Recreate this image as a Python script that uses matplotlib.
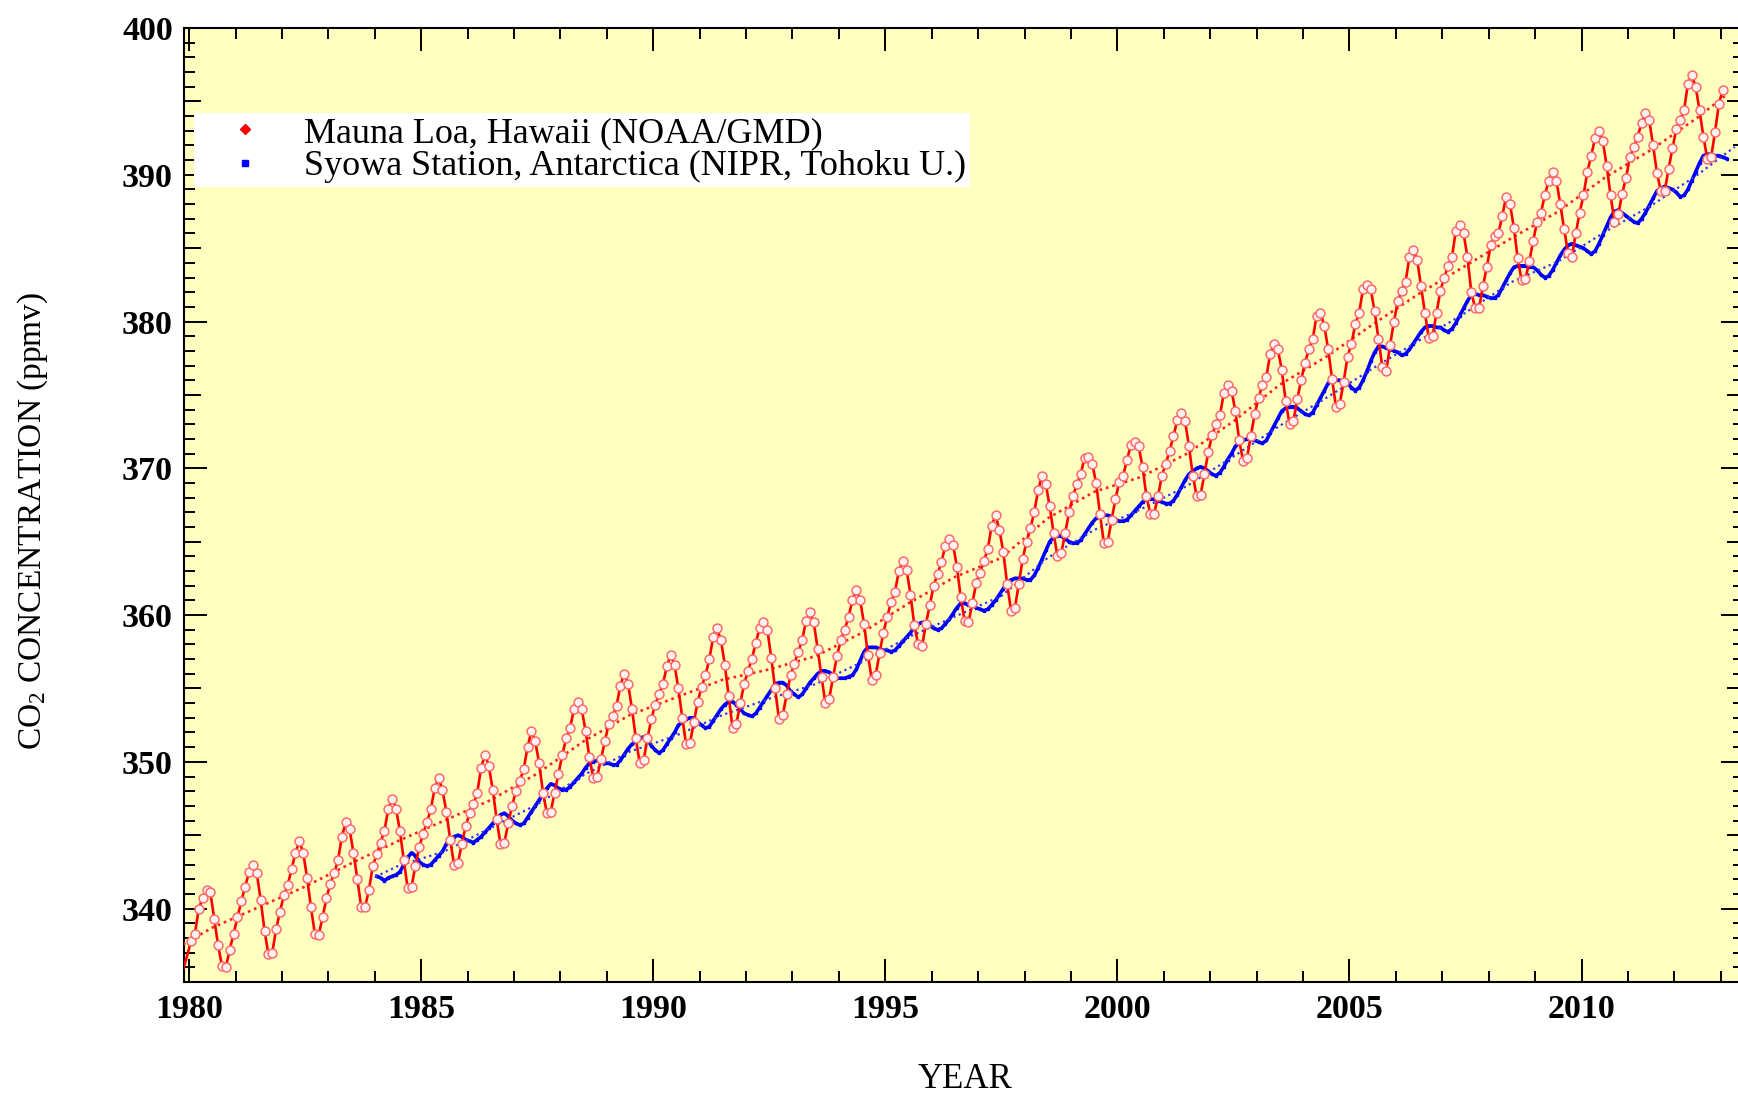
import matplotlib
matplotlib.use("Agg")
import matplotlib.pyplot as plt
from matplotlib.ticker import MultipleLocator, FixedLocator, NullLocator
from matplotlib.lines import Line2D

plt.rcParams['font.family'] = ['Liberation Serif', 'DejaVu Serif']
plt.rcParams['mathtext.fontset'] = 'custom'
plt.rcParams['mathtext.rm'] = 'Liberation Serif'
plt.rcParams['mathtext.it'] = 'Liberation Serif:italic'
plt.rcParams['mathtext.bf'] = 'Liberation Serif:bold'

# ---------------------------------------------------------------------------
# Mauna Loa, Hawaii - monthly mean CO2 (ppmv), first value = November 1979
mlo_start = (1979, 11)
mlo_ppm = [
    335.9, 336.8,
    337.8, 338.3, 340.0, 340.7, 341.3, 341.1, 339.3, 337.5, 336.1, 336.0, 337.2, 338.3,  # 1980
    339.4, 340.5, 341.5, 342.5, 343.0, 342.4, 340.6, 338.5, 336.9, 337.0, 338.6, 339.8,  # 1981
    340.9, 341.6, 342.7, 343.8, 344.6, 343.8, 342.1, 340.1, 338.3, 338.2, 339.4, 340.7,  # 1982
    341.7, 342.4, 343.3, 344.9, 345.9, 345.4, 343.8, 342.0, 340.1, 340.1, 341.3, 342.9,  # 1983
    343.7, 344.5, 345.3, 346.8, 347.5, 346.8, 345.3, 343.3, 341.4, 341.5, 342.9, 344.2,  # 1984
    345.1, 345.9, 346.8, 348.2, 348.9, 348.1, 346.6, 344.7, 343.0, 343.1, 344.4, 345.6,  # 1985
    346.5, 347.1, 347.9, 349.6, 350.5, 349.7, 348.1, 346.1, 344.4, 344.5, 345.8, 347.0,  # 1986
    348.0, 348.7, 349.5, 351.0, 352.1, 351.4, 349.9, 347.9, 346.5, 346.6, 347.9, 349.2,  # 1987
    350.5, 351.6, 352.3, 353.6, 354.1, 353.6, 352.1, 350.3, 348.9, 349.0, 350.2, 351.4,  # 1988
    352.6, 353.1, 353.8, 355.2, 356.0, 355.3, 353.6, 351.6, 349.9, 350.1, 351.6, 352.9,  # 1989
    353.9, 354.6, 355.3, 356.5, 357.3, 356.6, 355.0, 353.0, 351.2, 351.3, 352.7, 354.1,  # 1990
    355.1, 355.9, 357.0, 358.5, 359.1, 358.3, 356.6, 354.5, 352.3, 352.6, 354.0, 355.3,  # 1991
    356.2, 357.0, 358.1, 359.1, 359.5, 359.0, 357.1, 355.0, 352.9, 353.2, 354.6, 355.9,  # 1992
    356.7, 357.5, 358.3, 359.6, 360.2, 359.5, 357.7, 355.8, 354.0, 354.3, 355.8, 357.2,  # 1993
    358.3, 359.0, 359.9, 361.0, 361.7, 361.0, 359.4, 357.3, 355.6, 355.9, 357.4, 358.8,  # 1994
    359.9, 360.9, 361.6, 363.0, 363.7, 363.1, 361.4, 359.3, 358.0, 357.9, 359.4, 360.7,  # 1995
    362.0, 362.8, 363.6, 364.7, 365.2, 364.8, 363.3, 361.2, 359.6, 359.5, 360.8, 362.2,  # 1996
    362.9, 363.7, 364.5, 366.1, 366.8, 365.8, 364.3, 362.1, 360.3, 360.5, 362.1, 363.8,  # 1997
    365.0, 365.9, 367.0, 368.5, 369.5, 368.9, 367.4, 365.6, 364.0, 364.2, 365.6, 367.0,  # 1998
    368.1, 368.9, 369.6, 370.7, 370.8, 370.3, 369.0, 366.9, 364.9, 365.0, 366.5, 367.9,  # 1999
    369.1, 369.5, 370.6, 371.6, 371.8, 371.5, 370.1, 368.1, 366.9, 366.9, 368.1, 369.5,  # 2000
    370.3, 371.2, 372.2, 373.3, 373.8, 373.2, 371.5, 369.5, 368.1, 368.2, 369.6, 371.1,  # 2001
    372.3, 373.0, 373.6, 375.1, 375.7, 375.3, 373.9, 371.9, 370.5, 370.7, 372.2, 373.7,  # 2002
    374.8, 375.7, 376.2, 377.8, 378.5, 378.1, 376.7, 374.6, 373.0, 373.2, 374.7, 376.0,  # 2003
    377.2, 378.1, 378.8, 380.4, 380.6, 379.7, 378.1, 376.1, 374.2, 374.4, 375.9, 377.6,  # 2004
    378.5, 379.8, 380.6, 382.2, 382.5, 382.2, 380.7, 378.8, 376.9, 376.6, 378.4, 380.0,  # 2005
    381.4, 382.1, 382.7, 384.4, 384.9, 384.2, 382.4, 380.6, 378.9, 379.0, 380.6, 382.1,  # 2006
    383.0, 383.8, 384.4, 386.2, 386.6, 386.0, 384.4, 382.0, 380.9, 380.9, 382.4, 383.7,  # 2007
    385.2, 385.8, 386.0, 387.2, 388.5, 388.0, 386.4, 384.3, 382.8, 382.9, 384.1, 385.5,  # 2008
    386.8, 387.4, 388.6, 389.6, 390.2, 389.6, 388.0, 386.3, 384.7, 384.4, 386.0, 387.4,  # 2009
    388.6, 390.2, 391.3, 392.5, 393.0, 392.3, 390.6, 388.6, 386.8, 387.3, 388.7, 389.8,  # 2010
    391.2, 391.9, 392.6, 393.5, 394.2, 393.7, 392.0, 390.1, 388.9, 388.9, 390.4, 391.8,  # 2011
    393.1, 393.7, 394.4, 396.2, 396.8, 396.0, 394.4, 392.6, 391.1, 391.2, 392.9, 394.8,  # 2012
    395.8,                                                                              # 2013
]

# Mauna Loa deseasonalised trend (decimal year, ppmv)
mlo_trend_year = [1979.5, 1980.5, 1981.5, 1982.5, 1983.5, 1984.5, 1985.5, 1986.5,
                  1987.5, 1988.5, 1989.5, 1990.5, 1991.5, 1992.5, 1993.5, 1994.5,
                  1995.5, 1996.5, 1997.5, 1998.5, 1999.5, 2000.5, 2001.5, 2002.5,
                  2003.5, 2004.5, 2005.5, 2006.5, 2007.5, 2008.5, 2009.5, 2010.5,
                  2011.5, 2012.5, 2013.1]
mlo_trend_ppm = [336.9, 338.7, 340.1, 341.5, 343.1, 344.6, 346.0, 347.4,
                 349.2, 351.4, 353.2, 354.4, 355.6, 356.3, 357.2, 358.8,
                 360.8, 362.6, 363.9, 366.6, 368.4, 369.4, 371.0, 373.2,
                 375.7, 377.6, 379.8, 381.9, 383.8, 385.7, 387.5, 389.8,
                 391.7, 393.9, 395.4]

# Syowa Station, Antarctica - monthly CO2 (ppmv), first value = January 1984
syowa_start = (1984, 1)
syowa_ppm = [
    342.2, 342.1, 341.9, 342.1, 342.2, 342.3, 342.5, 343.0, 343.5, 343.8, 343.6, 343.2,  # 1984
    343.0, 342.9, 343.0, 343.3, 343.6, 343.9, 344.4, 344.7, 344.9, 345.0, 344.9, 344.7,  # 1985
    344.6, 344.5, 344.7, 344.9, 345.2, 345.5, 345.8, 346.1, 346.4, 346.5, 346.3, 346.0,  # 1986
    345.8, 345.7, 345.8, 346.2, 346.6, 347.0, 347.4, 347.8, 348.2, 348.5, 348.4, 348.2,  # 1987
    348.1, 348.1, 348.3, 348.6, 348.9, 349.2, 349.6, 349.9, 350.0, 350.1, 350.0, 349.9,  # 1988
    349.9, 349.8, 349.8, 350.1, 350.5, 350.9, 351.2, 351.4, 351.6, 351.7, 351.5, 351.1,  # 1989
    350.8, 350.6, 350.8, 351.2, 351.6, 352.0, 352.5, 352.7, 352.9, 353.0, 353.0, 352.7,  # 1990
    352.5, 352.3, 352.4, 352.8, 353.2, 353.6, 353.9, 354.1, 354.1, 353.9, 353.6, 353.3,  # 1991
    353.2, 353.1, 353.3, 353.7, 354.1, 354.5, 354.9, 355.3, 355.4, 355.4, 355.2, 354.8,  # 1992
    354.6, 354.4, 354.6, 355.0, 355.4, 355.7, 356.0, 356.2, 356.2, 356.1, 355.9, 355.7,  # 1993
    355.7, 355.7, 355.8, 355.9, 356.3, 356.9, 357.5, 357.8, 357.8, 357.8, 357.7, 357.6,  # 1994
    357.6, 357.5, 357.6, 357.9, 358.2, 358.5, 358.8, 359.2, 359.4, 359.5, 359.5, 359.3,  # 1995
    359.1, 359.0, 359.1, 359.4, 359.7, 360.1, 360.5, 360.8, 360.8, 360.7, 360.7, 360.5,  # 1996
    360.4, 360.3, 360.4, 360.7, 361.0, 361.4, 361.8, 362.2, 362.4, 362.5, 362.5, 362.5,  # 1997
    362.4, 362.4, 362.7, 363.2, 363.8, 364.4, 365.0, 365.3, 365.4, 365.4, 365.2, 365.0,  # 1998
    364.9, 364.9, 365.1, 365.5, 365.9, 366.3, 366.6, 366.7, 366.8, 366.8, 366.7, 366.5,  # 1999
    366.4, 366.4, 366.5, 366.8, 367.1, 367.4, 367.7, 367.9, 367.9, 367.9, 367.8, 367.7,  # 2000
    367.6, 367.6, 367.8, 368.2, 368.7, 369.2, 369.6, 369.8, 370.0, 370.1, 370.0, 369.8,  # 2001
    369.6, 369.5, 369.7, 370.1, 370.6, 371.0, 371.5, 371.7, 371.9, 372.0, 372.0, 371.9,  # 2002
    371.8, 371.7, 371.9, 372.4, 372.9, 373.4, 373.9, 374.1, 374.2, 374.2, 374.1, 373.9,  # 2003
    373.7, 373.6, 373.8, 374.3, 374.8, 375.3, 375.8, 376.0, 376.0, 376.0, 375.9, 375.8,  # 2004
    375.5, 375.3, 375.5, 376.0, 376.6, 377.3, 377.9, 378.3, 378.3, 378.2, 378.1, 378.0,  # 2005
    377.9, 377.7, 377.8, 378.1, 378.5, 378.9, 379.3, 379.6, 379.7, 379.7, 379.6, 379.6,  # 2006
    379.4, 379.3, 379.5, 379.9, 380.4, 380.9, 381.4, 381.8, 381.9, 381.8, 381.8, 381.7,  # 2007
    381.6, 381.6, 381.8, 382.3, 382.8, 383.3, 383.7, 383.8, 383.8, 383.8, 383.7, 383.7,  # 2008
    383.5, 383.2, 383.0, 383.1, 383.5, 384.0, 384.5, 384.9, 385.2, 385.3, 385.2, 385.1,  # 2009
    385.0, 384.8, 384.6, 384.8, 385.3, 385.9, 386.5, 387.1, 387.5, 387.6, 387.4, 387.2,  # 2010
    387.0, 386.8, 386.7, 387.0, 387.4, 387.9, 388.4, 388.9, 389.1, 389.2, 389.1, 389.0,  # 2011
    388.8, 388.5, 388.6, 389.0, 389.6, 390.2, 390.8, 391.3, 391.4, 391.4, 391.3, 391.3,  # 2012
    391.2, 391.1,                                                                        # 2013
]

# Syowa Station trend (decimal year, ppmv)
syowa_trend_year = [1983.9, 1984.5, 1985.5, 1986.5, 1987.5, 1988.5, 1989.5, 1990.5,
                    1991.5, 1992.5, 1993.5, 1994.5, 1995.5, 1996.5, 1997.5, 1998.5,
                    1999.5, 2000.5, 2001.5, 2002.5, 2003.5, 2004.5, 2005.5, 2006.5,
                    2007.5, 2008.5, 2009.5, 2010.5, 2011.5, 2012.5, 2013.3]
syowa_trend_ppm = [342.0, 342.9, 343.9, 345.5, 347.1, 349.1, 350.7, 351.8,
                   353.2, 354.3, 355.3, 356.8, 358.5, 359.9, 361.3, 363.9,
                   365.8, 367.2, 368.8, 370.8, 372.9, 374.8, 376.8, 378.7,
                   380.6, 382.7, 384.1, 386.1, 387.9, 390.0, 391.9]

year_ticks = [1980, 1985, 1990, 1995, 2000, 2005, 2010]
ppm_ticks = [340, 350, 360, 370, 380, 390, 400]
legend_labels = ["Mauna Loa, Hawaii (NOAA/GMD)",
                 "Syowa Station, Antarctica (NIPR, Tohoku U.)"]


def month_axis(start, n):
    y0, m0 = start
    return [y0 + (m0 - 0.5 + i) / 12.0 for i in range(n)]


mlo_t = month_axis(mlo_start, len(mlo_ppm))
syowa_t = month_axis(syowa_start, len(syowa_ppm))

# ---------------------------------------------------------------------------
W, H = 1738, 1097
fig = plt.figure(figsize=(W / 100, H / 100), dpi=100)
fig.patch.set_facecolor('white')

left_px, right_px, top_px, bottom_px = 184, 1744, 28, 982
ax = fig.add_axes([left_px / W, 1 - bottom_px / H,
                   (right_px - left_px) / W, (bottom_px - top_px) / H])
ax.set_facecolor('#ffffc0')

# Syowa (blue) underneath
ax.plot(syowa_t, syowa_ppm, color='#0000ff', lw=2.6, marker='s', ms=2.0,
        mec='#0000ff', mfc='#0000ff', solid_joinstyle='round', zorder=2)
ax.plot(syowa_trend_year, syowa_trend_ppm, color='#3030ff', lw=1.6,
        ls=(0, (1, 1.6)), zorder=2)

# Mauna Loa (red)
ax.plot(mlo_trend_year, mlo_trend_ppm, color='#ff2020', lw=1.9,
        ls=(0, (1, 1.5)), zorder=3)
ax.plot(mlo_t, mlo_ppm, color='#ff0000', lw=1.9, marker='o', ms=6.4,
        mfc='#fff2f2', mec='#ff6a6a', mew=1.1,
        markevery=slice(2, None), zorder=4)

ax.set_xlim(1979.89, 2013.5)
ax.set_ylim(335, 400)

# 5-ppm intermediate ticks on a twin y axis
ax5 = ax.twinx()
ax5.set_ylim(335, 400)
ax5.yaxis.set_major_locator(FixedLocator([345, 355, 365, 375, 385, 395]))
ax5.yaxis.set_minor_locator(NullLocator())
ax5.tick_params(axis='y', which='major', left=True, right=True,
                labelleft=False, labelright=False, direction='in',
                length=12.2, width=1.4, color='black')
for s in ax5.spines.values():
    s.set_visible(False)

ax.xaxis.set_major_locator(FixedLocator(year_ticks))
ax.xaxis.set_minor_locator(MultipleLocator(1))
ax.yaxis.set_major_locator(FixedLocator(ppm_ticks))
ax.yaxis.set_minor_locator(MultipleLocator(1))
ax.tick_params(which='both', direction='in', top=True, right=True,
               bottom=True, left=True, width=1.4, color='black')
ax.tick_params(which='major', length=16.6)
ax.tick_params(which='minor', length=8.2)
ax.tick_params(axis='x', which='major', labelsize=24.5, pad=9)
ax.tick_params(axis='y', which='major', labelsize=24.5, pad=8)
ax.set_xticklabels([str(v) for v in year_ticks])
ax.set_yticklabels([str(v) for v in ppm_ticks])
for lab in ax.get_xticklabels() + ax.get_yticklabels():
    lab.set_fontweight('bold')
for s in ax.spines.values():
    s.set_linewidth(1.5)

fig.text(33 / W, 1 - 521 / H, r'CO$_2$ CONCENTRATION (ppmv)', rotation=90,
         ha='center', va='center', fontsize=24)
fig.text(965 / W, 1 - 1088 / H, 'YEAR', ha='center', va='baseline',
         fontsize=25)

handles = [Line2D([], [], ls='none', marker='D', ms=5.5, color='#ff0000'),
           Line2D([], [], ls='none', marker='s', ms=4.0, color='#0000ff')]
leg = fig.legend(handles, legend_labels, loc='upper left',
                 bbox_to_anchor=(194 / W, 1 - 113 / H), borderaxespad=0,
                 fontsize=26, frameon=True, fancybox=False, framealpha=1,
                 facecolor='white', edgecolor='none', borderpad=0.1,
                 labelspacing=0.0, handlelength=2.6, handletextpad=0.35,
                 numpoints=1)

fig.savefig('out.png', dpi=100)
